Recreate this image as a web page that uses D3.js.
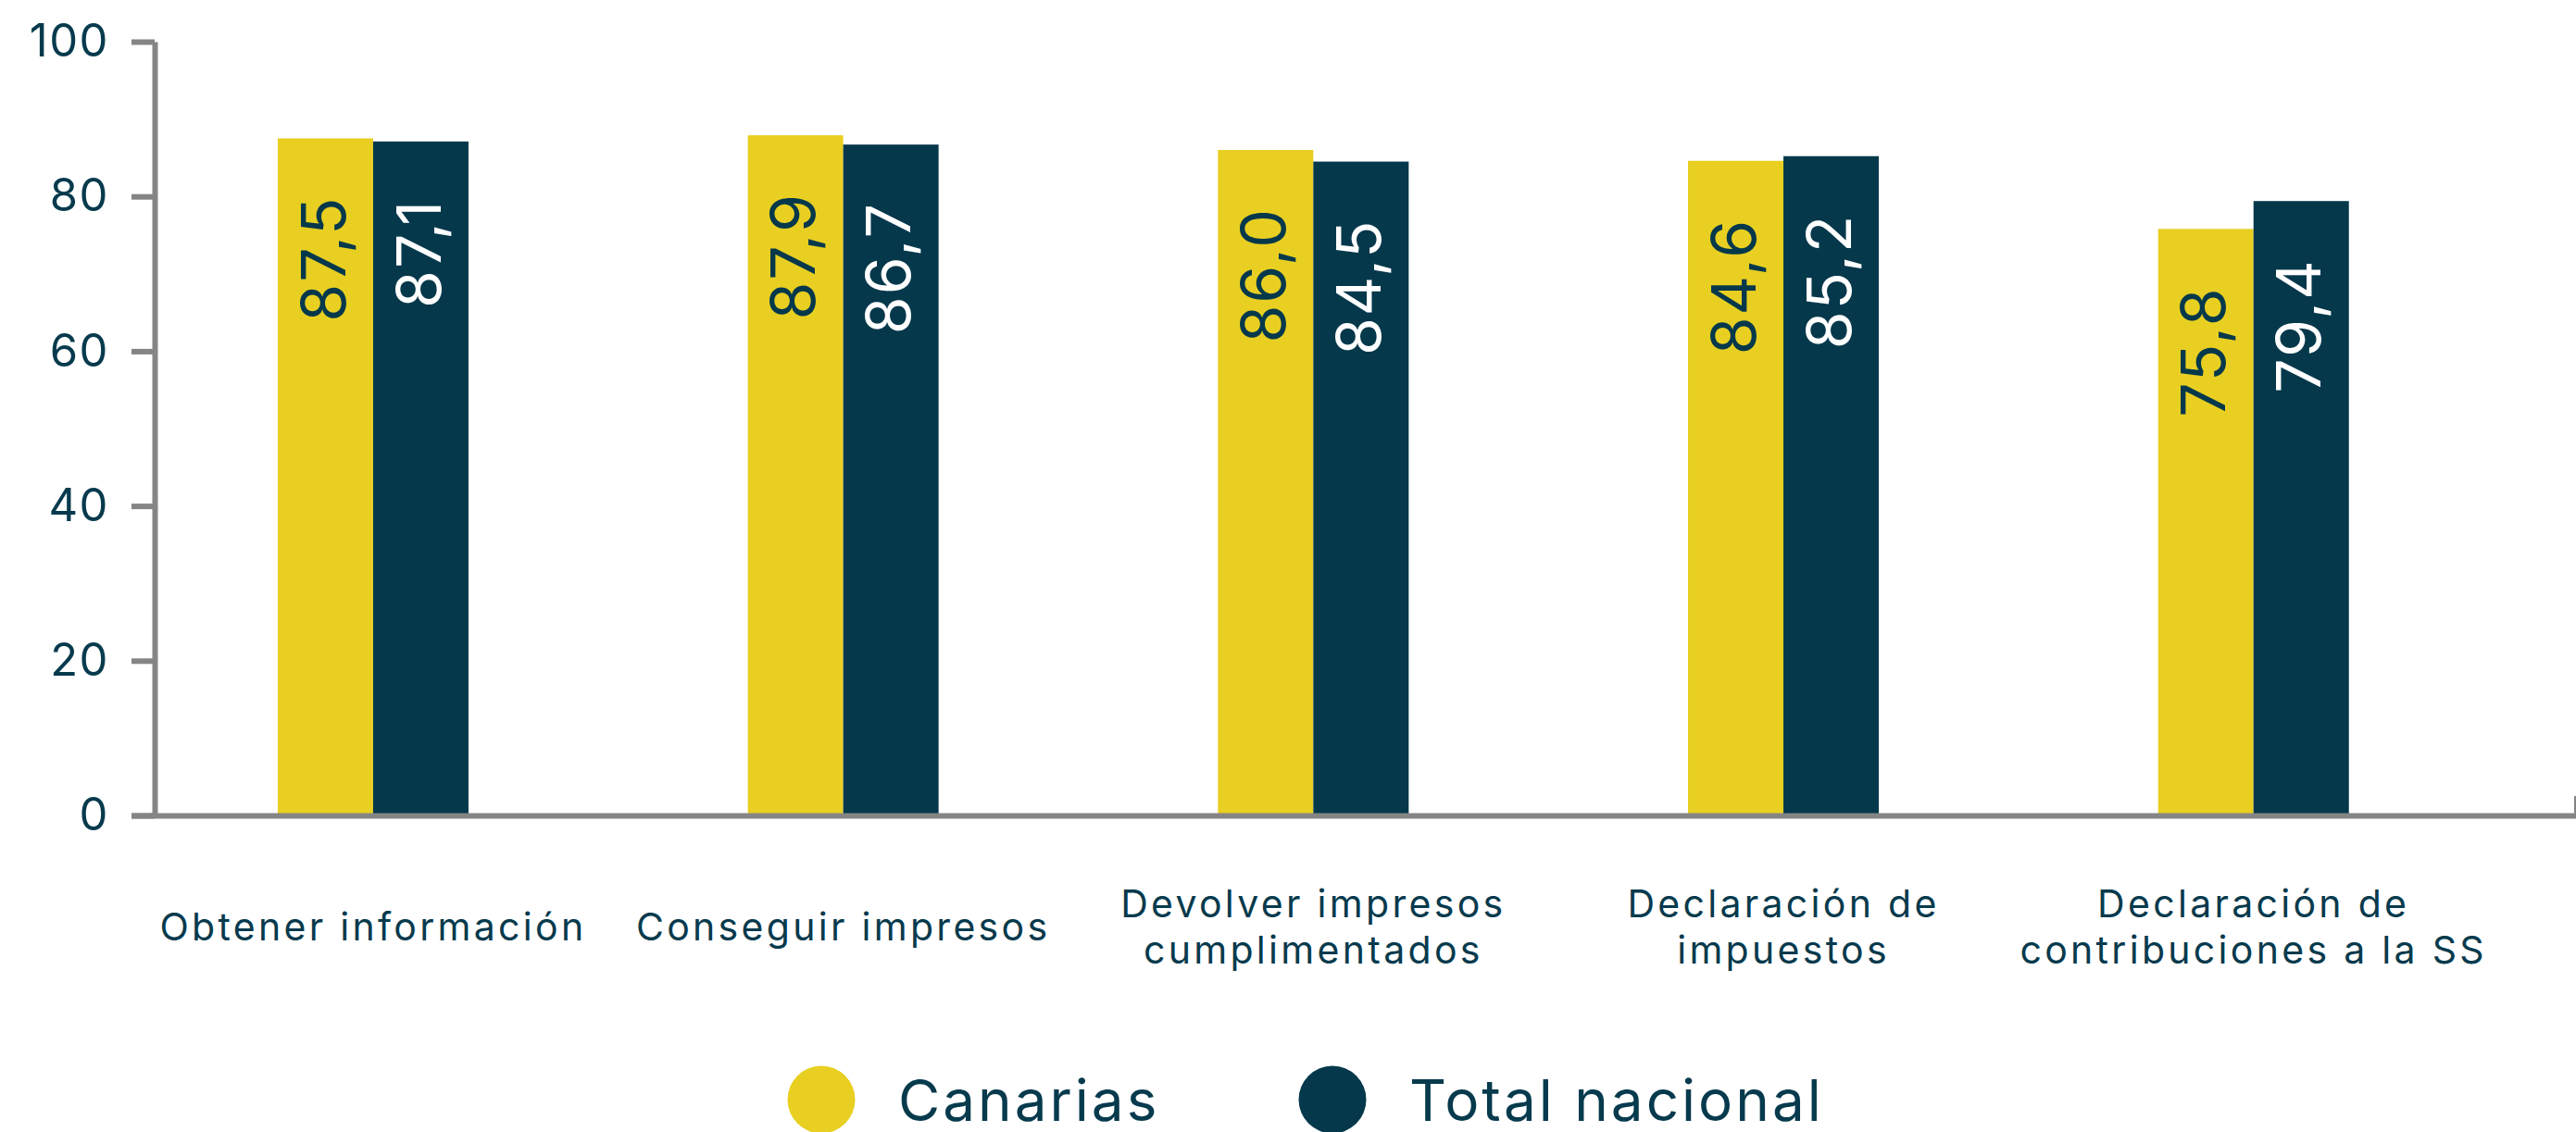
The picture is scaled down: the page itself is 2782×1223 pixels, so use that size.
<!DOCTYPE html>
<html lang="es">
<head>
<meta charset="utf-8">
<title>Trámites con la administración: Canarias y total nacional</title>
<script src="https://cdn.jsdelivr.net/npm/d3@7"></script>
<style>
  html, body { margin: 0; padding: 0; background: #ffffff; }
  svg { display: block; }
  text { font-family: "Inter", "Noto Sans", sans-serif; fill: #073a4d; }
</style>
</head>
<body>
<svg id="chart" width="2782" height="1223"></svg>
<script>
// Categories (each label split into its display lines)
const categories = [
  "Obtener información",
  "Conseguir impresos",
  "Devolver impresos cumplimentados",
  "Declaración de impuestos",
  "Declaración de contribuciones a la SS"
];
const categoryLines = [
  ["Obtener información"],
  ["Conseguir impresos"],
  ["Devolver impresos", "cumplimentados"],
  ["Declaración de", "impuestos"],
  ["Declaración de", "contribuciones a la SS"]
];

// Series
const seriesNames = ["Canarias", "Total nacional"];
const canarias      = [87.5, 87.9, 86.0, 84.6, 75.8];
const totalNacional = [87.1, 86.7, 84.5, 85.2, 79.4];

// Y axis ticks
const yTicks = [0, 20, 40, 60, 80, 100];

const colors = { "Canarias": "#e8cf21", "Total nacional": "#05384b" };
const labelColors = { "Canarias": "#05384b", "Total nacional": "#ffffff" };
const axisGray = "#858585";

const svg = d3.select("#chart");

const y = d3.scaleLinear().domain([0, 100]).range([881, 45]);

const x0 = d3.scaleBand()
  .domain(categories)
  .range([142, 2782])
  .paddingInner(0)
  .paddingOuter(0.1)
  .align(0.07);

const groupWidth = 206;
const x1 = d3.scaleBand().domain(seriesNames).range([0, groupWidth]).padding(0);

const rows = categories.map((c, i) => ({
  category: c,
  values: [
    { series: "Canarias", value: canarias[i] },
    { series: "Total nacional", value: totalNacional[i] }
  ]
}));

const fmt = v => d3.format(".1f")(v).replace(".", ",");

// Bars
const groups = svg.append("g").selectAll("g.group")
  .data(rows)
  .join("g")
  .attr("class", "group")
  .attr("transform", d => `translate(${x0(d.category) + (x0.bandwidth() - groupWidth) / 2},0)`);

groups.selectAll("rect")
  .data(d => d.values)
  .join("rect")
  .attr("x", d => x1(d.series))
  .attr("width", x1.bandwidth())
  .attr("y", d => y(d.value))
  .attr("height", d => y(0) - y(d.value))
  .attr("fill", d => colors[d.series]);

// Value labels, rotated, reading upward from below the bar top
groups.selectAll("text.value")
  .data(d => d.values)
  .join("text")
  .attr("class", "value")
  .attr("transform", d => `translate(${x1(d.series) + x1.bandwidth() / 2},${y(d.value) + 62}) rotate(-90)`)
  .attr("text-anchor", "end")
  .attr("dy", "0.32em")
  .style("font-size", "66px")
  .style("letter-spacing", "2px")
  .style("fill", d => labelColors[d.series])
  .text(d => fmt(d.value));

// Y axis
const yAxis = d3.axisLeft(y)
  .tickValues(yTicks)
  .tickSize(25)
  .tickSizeOuter(0)
  .tickPadding(24)
  .tickFormat(d3.format("d"));

const gy = svg.append("g")
  .attr("transform", `translate(167,0)`)
  .call(yAxis);
gy.select(".domain").attr("stroke", axisGray).attr("stroke-width", 6);
gy.selectAll(".tick line").attr("stroke", axisGray).attr("stroke-width", 6);
gy.selectAll(".tick text")
  .style("font-size", "49px")
  .style("letter-spacing", "1.5px")
  .style("fill", "#073a4d")
  .attr("font-family", null);

// X axis baseline
const xAxis = d3.axisBottom(x0).tickSize(0).tickSizeOuter(0).tickFormat("");
const gx = svg.append("g")
  .attr("transform", `translate(0,${y(0)})`)
  .call(xAxis);
gx.select(".domain").attr("stroke", axisGray).attr("stroke-width", 6);
gx.append("line")
  .attr("x1", x0.range()[1] - 1).attr("x2", x0.range()[1] - 1)
  .attr("y1", 3).attr("y2", -21)
  .attr("stroke", axisGray).attr("stroke-width", 2);

// Category labels
const lineHeight = 50;
svg.append("g").selectAll("text.cat")
  .data(categories)
  .join("text")
  .attr("class", "cat")
  .attr("text-anchor", "middle")
  .attr("x", d => x0(d) + x0.bandwidth() / 2)
  .attr("y", (d, i) => 1002 - (categoryLines[i].length - 1) * lineHeight / 2)
  .style("font-size", "41px")
  .style("letter-spacing", "3.3px")
  .each(function(d, i) {
    const t = d3.select(this);
    categoryLines[i].forEach((ln, j) => {
      t.append("tspan")
        .attr("x", x0(d) + x0.bandwidth() / 2)
        .attr("dy", j === 0 ? "0.35em" : lineHeight)
        .text(ln);
    });
  });

// Legend
const legendItems = [
  { name: "Canarias", cx: 887 },
  { name: "Total nacional", cx: 1439 }
];
const legend = svg.append("g").selectAll("g.legend")
  .data(legendItems)
  .join("g")
  .attr("class", "legend")
  .attr("transform", d => `translate(${d.cx},1188)`);
legend.append("circle")
  .attr("r", 36.5)
  .attr("fill", d => colors[d.name]);
legend.append("text")
  .attr("x", 83)
  .attr("y", 23)
  .style("font-size", "62px")
  .style("letter-spacing", "3px")
  .text(d => d.name);
</script>
</body>
</html>
